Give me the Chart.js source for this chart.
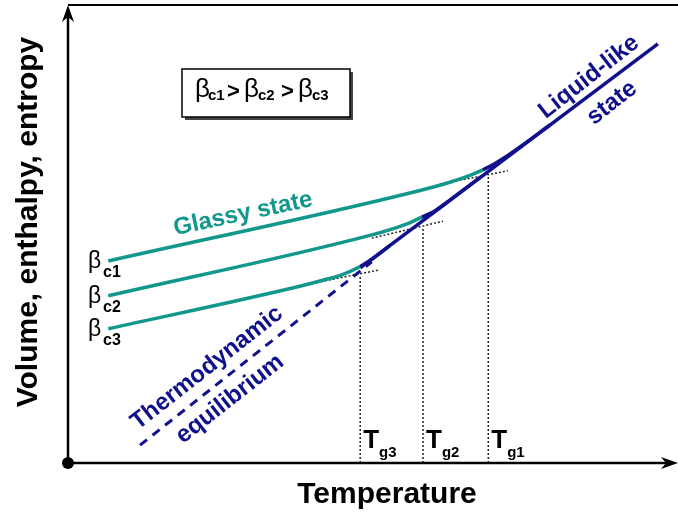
<!DOCTYPE html>
<html>
<head>
<meta charset="utf-8">
<script src="https://cdn.jsdelivr.net/npm/chart.js@4.4.1/dist/chart.umd.min.js"></script>
<style>
  html, body { margin: 0; padding: 0; background: #fff; }
  #wrap { width: 678px; height: 513px; }
</style>
</head>
<body>
<div id="wrap"><canvas id="myChart" width="678" height="513"></canvas></div>
<script>
// glass transition schematic, arbitrary units (0-100 on both axes)
const rateNames = ["c1", "c2", "c3"];

// cooling curves: glassy branch that bends into the equilibrium line
const glass1T = [6.6, 57.7, 62.6, 65.9, 68.0, 70.0, 71.6, 74.1, 79.0];
const glass1V = [44.1, 59.5, 61.3, 62.8, 64.0, 65.4, 66.7, 69.0, 73.8];
const glass2T = [6.6, 49.5, 53.6, 56.1, 58.0, 60.2, 62.6, 67.5];
const glass2V = [36.5, 49.7, 51.3, 52.5, 53.7, 55.1, 57.4, 62.3];
const glass3T = [6.6, 38.0, 42.1, 45.1, 47.9, 49.8, 52.8];
const glass3V = [29.3, 38.6, 40.0, 41.2, 42.9, 44.5, 47.5];
// where each curve leaves the glassy state
const glassEnd = [68.0, 58.0, 47.9];

// liquid-like state (solid) and its extrapolation (dashed)
const liquidT = [47.9, 96.7];
const liquidV = [42.6, 91.5];
const equilT = [11.8, 49.8];
const equilV = [3.9, 43.9];

const tangentT = [[61.0, 72.1], [49.8, 61.5], [38.9, 50.8]];
const tangentV = [[60.9, 63.8], [49.1, 52.8], [38.9, 42.1]];

// glass transition temperatures and the level where they are read
const tgNames = ["g1", "g2", "g3"];
const tgTemps = [68.9, 58.2, 47.9];
const tgLevels = [62.7, 51.5, 41.0];

const TEAL = "#11978c";
const NAVY = "#10108c";
const FONT = "'Liberation Sans', Arial, sans-serif";

const pts = (xs, ys) => xs.map((x, i) => ({ x, y: ys[i] }));

const glassT = [glass1T, glass2T, glass3T];
const glassV = [glass1V, glass2V, glass3V];

const datasets = [];
glassT.forEach((xs, i) => {
  datasets.push({
    data: pts(xs, glassV[i]),
    borderColor: TEAL,
    borderWidth: 3.5,
    cubicInterpolationMode: "monotone",
    segment: {
      borderColor: (c) => (xs[c.p0DataIndex] >= glassEnd[i] ? NAVY : TEAL),
    },
  });
});
datasets.push({ data: pts(liquidT, liquidV), borderColor: NAVY, borderWidth: 3.5 });
datasets.push({ data: pts(equilT, equilV), borderColor: NAVY, borderWidth: 3, borderDash: [9, 7] });
tangentT.forEach((xs, i) => {
  datasets.push({ data: pts(xs, tangentV[i]), borderColor: "#222", borderWidth: 1.5, borderDash: [2, 2] });
});
tgTemps.forEach((t, i) => {
  datasets.push({ data: [{ x: t, y: 0 }, { x: t, y: tgLevels[i] }], borderColor: "#222", borderWidth: 1.5, borderDash: [2, 2] });
});
datasets.forEach((d) => {
  d.showLine = true;
  d.pointRadius = 0;
  d.fill = false;
  d.clip = false;
});

// axes with arrows, labels and the little legend box
const decorations = {
  id: "decorations",
  afterDatasetsDraw(chart) {
    const { ctx, chartArea: a, scales } = chart;
    const sx = scales.x, sy = scales.y;
    ctx.save();

    // axes
    ctx.strokeStyle = "#000";
    ctx.fillStyle = "#000";
    ctx.lineWidth = 2.5;
    ctx.beginPath();
    ctx.moveTo(a.left, a.bottom);
    ctx.lineTo(a.left, a.top + 10);
    ctx.moveTo(a.left, a.bottom);
    ctx.lineTo(a.right - 8, a.bottom);
    ctx.stroke();
    ctx.lineWidth = 2;
    ctx.beginPath();
    ctx.moveTo(a.left, a.top);
    ctx.lineTo(a.right, a.top);
    ctx.stroke();
    ctx.beginPath();
    ctx.moveTo(a.left, a.top);
    ctx.lineTo(a.left - 6, a.top + 17);
    ctx.lineTo(a.left, a.top + 12);
    ctx.lineTo(a.left + 6, a.top + 17);
    ctx.closePath();
    ctx.fill();
    ctx.beginPath();
    ctx.moveTo(a.right, a.bottom);
    ctx.lineTo(a.right - 17, a.bottom - 6);
    ctx.lineTo(a.right - 12, a.bottom);
    ctx.lineTo(a.right - 17, a.bottom + 6);
    ctx.closePath();
    ctx.fill();
    ctx.beginPath();
    ctx.arc(a.left, a.bottom, 6, 0, Math.PI * 2);
    ctx.fill();

    // axis titles
    ctx.textAlign = "center";
    ctx.textBaseline = "alphabetic";
    ctx.font = "bold 30px " + FONT;
    ctx.fillText("Temperature", 387, 503);
    ctx.save();
    ctx.translate(37, 222);
    ctx.rotate(-Math.PI / 2);
    ctx.fillText("Volume, enthalpy, entropy", 0, 0);
    ctx.restore();

    // Tg labels
    ctx.textAlign = "left";
    tgTemps.forEach((t, i) => {
      const px = sx.getPixelForValue(t) + 3;
      ctx.font = "bold 26px " + FONT;
      ctx.fillText("T", px, 448);
      const w = ctx.measureText("T").width;
      ctx.font = "bold 15px " + FONT;
      ctx.fillText(tgNames[i], px + w, 457);
    });

    // cooling rate labels at the start of each curve
    glassT.forEach((xs, i) => {
      const py = sy.getPixelForValue(glassV[i][0]);
      ctx.font = "23px " + FONT;
      ctx.fillText("\u03B2", 88, py + 7);
      ctx.font = "bold 16px " + FONT;
      ctx.fillText(rateNames[i], 103, py + 16);
    });

    // legend box
    ctx.fillStyle = "#444";
    ctx.fillRect(185, 72, 168, 48);
    ctx.fillStyle = "#fff";
    ctx.fillRect(182, 69, 168, 48);
    ctx.strokeStyle = "#000";
    ctx.lineWidth = 1.5;
    ctx.strokeRect(182, 69, 168, 48);
    ctx.fillStyle = "#000";
    const betaX = [195, 244, 298];
    const subX = [208, 258, 312];
    const gtX = [227, 281];
    rateNames.forEach((r, i) => {
      ctx.font = "26px " + FONT;
      ctx.fillText("\u03B2", betaX[i], 97);
      ctx.font = "bold 15px " + FONT;
      ctx.fillText(r, subX[i], 100);
    });
    ctx.font = "bold 22px " + FONT;
    gtX.forEach((x) => ctx.fillText(">", x, 98));

    // rotated curve labels
    const rotated = (text, color, x, y, deg) => {
      ctx.save();
      ctx.translate(x, y);
      ctx.rotate((deg * Math.PI) / 180);
      ctx.fillStyle = color;
      ctx.font = "bold 24px " + FONT;
      ctx.textAlign = "center";
      ctx.textBaseline = "middle";
      ctx.fillText(text, 0, 0);
      ctx.restore();
    };
    rotated("Glassy state", TEAL, 243, 214, -12);
    rotated("Thermodynamic", NAVY, 207, 368, -38);
    rotated("equilibrium", NAVY, 230, 399, -38);
    rotated("Liquid-like", NAVY, 589, 77, -38);
    rotated("state", NAVY, 612, 103, -38);

    ctx.restore();
  },
};

const myChart = new Chart(document.getElementById("myChart"), {
  type: "scatter",
  data: { datasets },
  options: {
    responsive: false,
    animation: false,
    layout: { padding: { left: 68, right: 0, top: 5, bottom: 50 } },
    scales: {
      x: { type: "linear", min: 0, max: 100, display: false },
      y: { type: "linear", min: 0, max: 100, display: false },
    },
    plugins: { legend: { display: false }, tooltip: { enabled: false } },
  },
  plugins: [decorations],
});
</script>
</body>
</html>
